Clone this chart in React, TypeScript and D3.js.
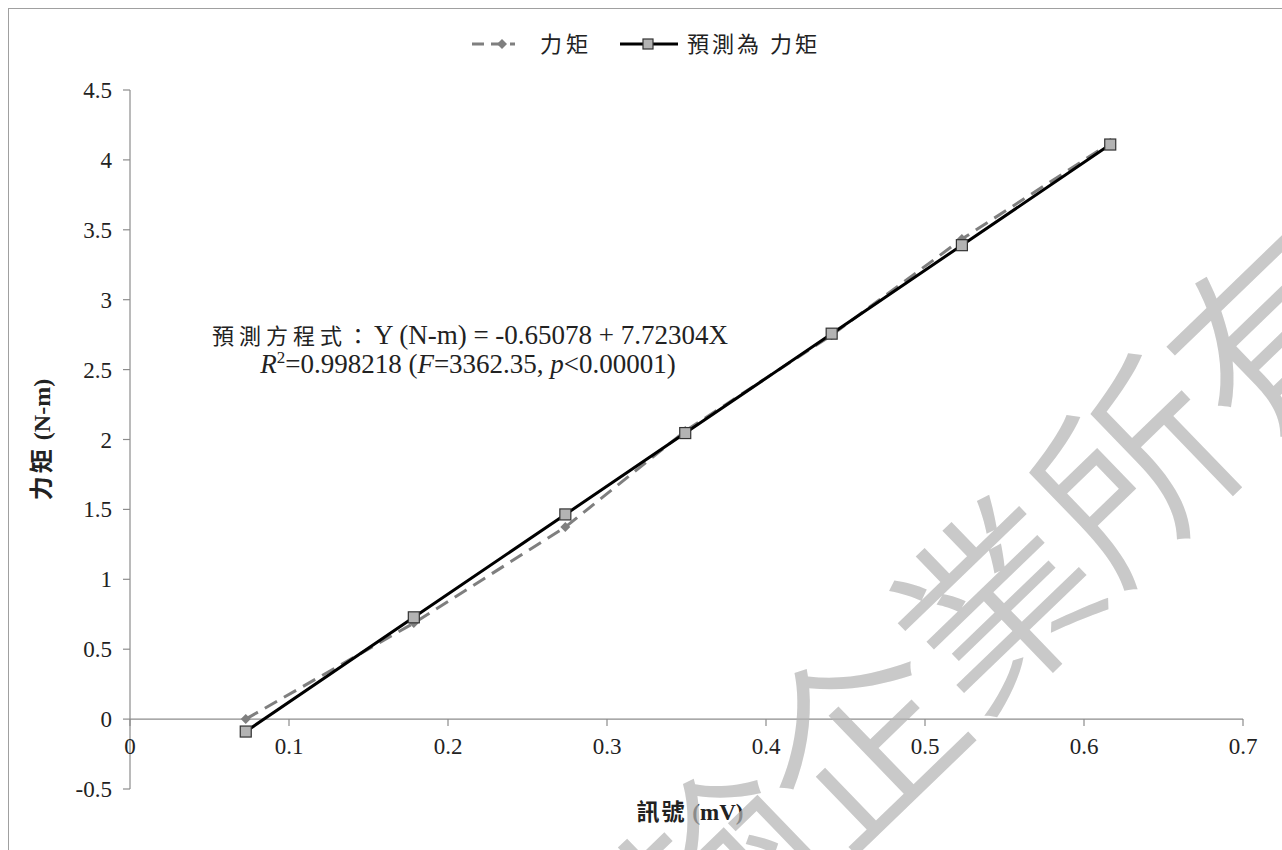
import React from "react";
import * as d3 from "d3";

// Signal readings (mV) and measured torque (N-m)
const signal = [0.0728, 0.1785, 0.2738, 0.3492, 0.4413, 0.5232, 0.6165];
const torque = [0.0, 0.6867, 1.3734, 2.0601, 2.7468, 3.4335, 4.1202];
// Torque predicted by the regression equation at each signal reading
const predicted = [-0.089, 0.728, 1.464, 2.046, 2.757, 3.39, 4.11];

const xTicks = [0, 0.1, 0.2, 0.3, 0.4, 0.5, 0.6, 0.7];
const yTicks = [-0.5, 0, 0.5, 1, 1.5, 2, 2.5, 3, 3.5, 4, 4.5];

const seriesNames = ["力矩", "預測為 力矩"];
const watermark = ["翰", "企", "業", "所", "有"];

const W = 1282;
const H = 850;
const M = { left: 130, right: 1243, top: 90, bottom: 789 };

const serif = "'Liberation Serif', 'Times New Roman', serif";
const cjk = "'Noto Sans CJK TC', 'Noto Sans CJK SC', sans-serif";

export default function App() {
  const x = d3.scaleLinear().domain([0, 0.7]).range([M.left, M.right]);
  const y = d3.scaleLinear().domain([-0.5, 4.5]).range([M.bottom, M.top]);
  const y0 = y(0);

  const line = d3
    .line<[number, number]>()
    .x((d) => x(d[0]))
    .y((d) => y(d[1]));

  const actualPts: [number, number][] = signal.map((s, i) => [s, torque[i]]);
  const predPts: [number, number][] = signal.map((s, i) => [s, predicted[i]]);

  const axisColor = "#8c8c8c";
  const textColor = "#222";

  const diamond = (cx: number, cy: number, r: number) =>
    `M${cx},${cy - r}L${cx + r},${cy}L${cx},${cy + r}L${cx - r},${cy}Z`;

  // Watermark placement along a diagonal toward the upper right
  const wmStart = { x: 712, y: 866 };
  const wmStep = { x: 138, y: -135 };

  return (
    <svg
      width={W}
      height={H}
      style={{ position: "absolute", left: 0, top: 0, background: "#fff" }}
    >
      <rect x={8.5} y={8.5} width={W} height={H} fill="#fff" stroke="#a0a0a0" strokeWidth={1} />

      {/* Legend */}
      <g transform="translate(0,44)">
        <line x1={472} x2={515} y1={0} y2={0} stroke="#7f7f7f" strokeWidth={3} strokeDasharray="12,7" />
        <path d={diamond(502, 0, 5)} fill="#7f7f7f" />
        <text x={540} y={8} fontFamily={cjk} fontSize={22} letterSpacing={4} fill={textColor}>
          {seriesNames[0]}
        </text>
        <line x1={620} x2={678} y1={0} y2={0} stroke="#000" strokeWidth={3} />
        <rect x={643} y={-5} width={10} height={10} fill="#b3b3b3" stroke="#333" strokeWidth={1.2} />
        <text x={687} y={8} fontFamily={cjk} fontSize={22} letterSpacing={3} fill={textColor}>
          {seriesNames[1]}
        </text>
      </g>

      {/* Y axis */}
      <line x1={M.left} x2={M.left} y1={M.top} y2={M.bottom} stroke={axisColor} strokeWidth={1.2} />
      {yTicks.map((t) => (
        <g key={`y${t}`}>
          <line x1={M.left - 7} x2={M.left} y1={y(t)} y2={y(t)} stroke={axisColor} strokeWidth={1.2} />
          <text
            x={112}
            y={y(t)}
            dy="0.35em"
            textAnchor="end"
            fontFamily={serif}
            fontSize={23}
            fill={textColor}
          >
            {t}
          </text>
        </g>
      ))}

      {/* X axis at zero */}
      <line x1={M.left} x2={M.right} y1={y0} y2={y0} stroke={axisColor} strokeWidth={1.2} />
      {xTicks.map((t) => (
        <g key={`x${t}`}>
          <line x1={x(t)} x2={x(t)} y1={y0} y2={y0 + 7} stroke={axisColor} strokeWidth={1.2} />
          <text
            x={x(t)}
            y={y0 + 35}
            textAnchor="middle"
            fontFamily={serif}
            fontSize={23}
            fill={textColor}
          >
            {t}
          </text>
        </g>
      ))}

      {/* Axis titles */}
      <text
        transform={`translate(50,${(M.top + M.bottom) / 2}) rotate(-90)`}
        textAnchor="middle"
        fontFamily={serif}
        fontSize={24}
        fontWeight="bold"
        fill={textColor}
      >
        <tspan fontFamily={cjk} letterSpacing={3}>力矩</tspan>
        <tspan> (N-m)</tspan>
      </text>
      <text
        x={690}
        y={820}
        textAnchor="middle"
        fontFamily={serif}
        fontSize={23}
        fontWeight="bold"
        fill={textColor}
      >
        <tspan fontFamily={cjk} letterSpacing={2}>訊號</tspan>
        <tspan> (mV)</tspan>
      </text>

      {/* Measured torque: dashed grey with diamonds */}
      <path
        d={line(actualPts) || ""}
        fill="none"
        stroke="#7f7f7f"
        strokeWidth={3}
        strokeDasharray="14,8"
      />
      {actualPts.map((p, i) => (
        <path key={`d${i}`} d={diamond(x(p[0]), y(p[1]), 5)} fill="#7f7f7f" />
      ))}

      {/* Predicted torque: solid black with squares */}
      <path d={line(predPts) || ""} fill="none" stroke="#000" strokeWidth={3} />
      {predPts.map((p, i) => (
        <rect
          key={`s${i}`}
          x={x(p[0]) - 5.5}
          y={y(p[1]) - 5.5}
          width={11}
          height={11}
          fill="#b3b3b3"
          stroke="#333"
          strokeWidth={1.2}
        />
      ))}

      {/* Regression annotation */}
      <text x={470} y={344} textAnchor="middle" fontFamily={serif} fontSize={27} fill={textColor}>
        <tspan fontFamily={cjk} fontSize={22} letterSpacing={5}>預測方程式：</tspan>
        <tspan>Y (N-m) = -0.65078 + 7.72304X</tspan>
      </text>
      <text x={468} y={373} textAnchor="middle" fontFamily={serif} fontSize={27} fill={textColor}>
        <tspan fontStyle="italic">R</tspan>
        <tspan fontSize={17} dy={-10}>2</tspan>
        <tspan dy={10}>=0.998218 (</tspan>
        <tspan fontStyle="italic">F</tspan>
        <tspan>=3362.35, </tspan>
        <tspan fontStyle="italic">p</tspan>
        <tspan>&lt;0.00001)</tspan>
      </text>

      {/* Watermark */}
      <g opacity={0.72}>
        {watermark.map((ch, i) => {
          const cx = wmStart.x + wmStep.x * i;
          const cy = wmStart.y + wmStep.y * i;
          return (
            <text
              key={`w${i}`}
              transform={`translate(${cx},${cy}) rotate(-44)`}
              textAnchor="middle"
              dominantBaseline="central"
              fontFamily={cjk}
              fontWeight={350}
              fontSize={195}
              fill="#b4b4b4"
            >
              {ch}
            </text>
          );
        })}
      </g>
    </svg>
  );
}
